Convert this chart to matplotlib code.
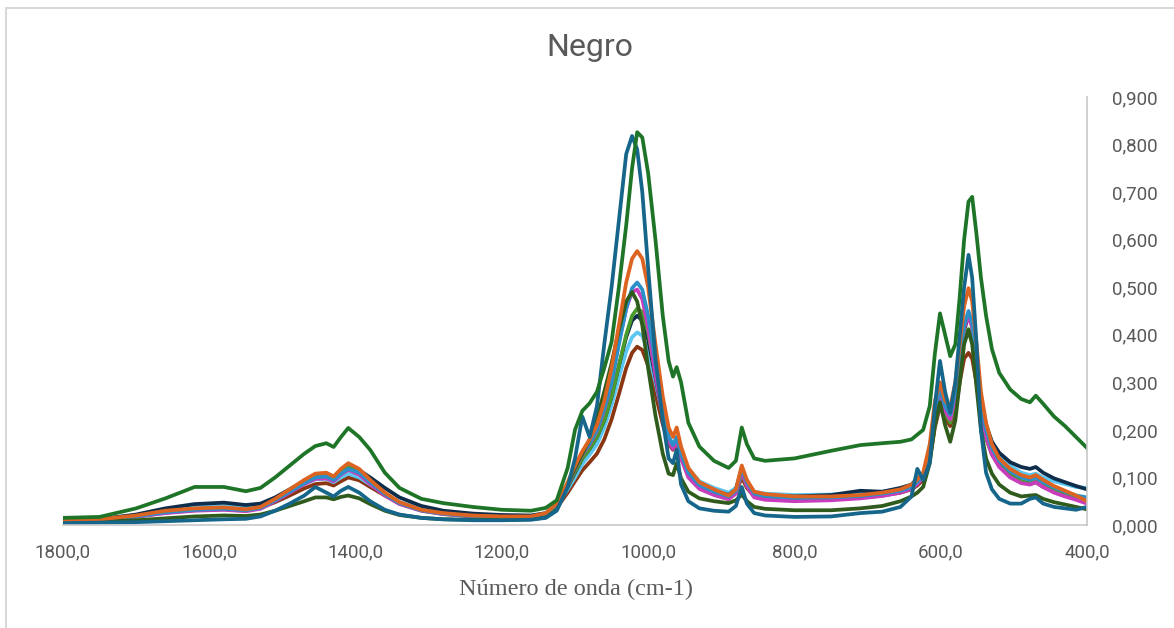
import numpy as np
import matplotlib.pyplot as plt
from matplotlib.lines import Line2D

# número de onda (cm-1), rejilla común para todas las muestras
wn = [1800, 1750, 1700, 1660, 1620, 1580, 1550, 1530, 1510, 1490, 1470, 1455, 1440, 1430, 1420,
      1410, 1395, 1380, 1360, 1340, 1310, 1280, 1240, 1200, 1160, 1140, 1125, 1110, 1100, 1090,
      1080, 1070, 1060, 1050, 1040, 1030, 1022, 1015, 1008, 1000, 990, 980, 972, 966, 961,
      955, 945, 930, 910, 890, 880, 872, 865, 855, 840, 800, 750, 710, 680, 655,
      640, 632, 624, 615, 608, 601, 594, 587, 580, 574, 568, 562, 557, 551, 545,
      538, 530, 520, 505, 490, 478, 470, 460, 445, 430, 415, 400]

verde_alto = [0.015, 0.017, 0.035, 0.056, 0.080, 0.080, 0.071, 0.078, 0.100, 0.125, 0.150, 0.166, 0.172, 0.164, 0.185,
              0.204, 0.185, 0.158, 0.110, 0.078, 0.055, 0.046, 0.038, 0.032, 0.030, 0.036, 0.052, 0.120, 0.200, 0.240,
              0.256, 0.280, 0.330, 0.385, 0.500, 0.630, 0.750, 0.826, 0.815, 0.740, 0.600, 0.440, 0.345, 0.312, 0.332,
              0.300, 0.215, 0.165, 0.135, 0.120, 0.135, 0.205, 0.170, 0.140, 0.135, 0.140, 0.156, 0.168, 0.172, 0.175,
              0.180, 0.190, 0.200, 0.250, 0.360, 0.445, 0.400, 0.355, 0.380, 0.480, 0.600, 0.680, 0.690, 0.610, 0.520,
              0.440, 0.370, 0.320, 0.285, 0.265, 0.258, 0.272, 0.255, 0.228, 0.208, 0.185, 0.162]

azul_petroleo = [0.004, 0.005, 0.006, 0.008, 0.010, 0.012, 0.013, 0.018, 0.030, 0.045, 0.062, 0.080, 0.068, 0.060, 0.072,
                 0.080, 0.068, 0.050, 0.032, 0.022, 0.015, 0.012, 0.010, 0.010, 0.011, 0.015, 0.030, 0.080, 0.140, 0.228,
                 0.185, 0.250, 0.380, 0.500, 0.640, 0.780, 0.818, 0.790, 0.700, 0.540, 0.350, 0.220, 0.140, 0.130, 0.158,
                 0.085, 0.050, 0.035, 0.030, 0.028, 0.040, 0.080, 0.045, 0.025, 0.020, 0.017, 0.018, 0.025, 0.028, 0.038,
                 0.060, 0.118, 0.095, 0.130, 0.250, 0.345, 0.280, 0.236, 0.300, 0.400, 0.500, 0.568, 0.520, 0.380, 0.200,
                 0.110, 0.075, 0.055, 0.045, 0.045, 0.055, 0.058, 0.045, 0.038, 0.035, 0.032, 0.038]

naranja = [0.008, 0.012, 0.020, 0.030, 0.035, 0.037, 0.033, 0.038, 0.055, 0.075, 0.095, 0.108, 0.110, 0.102, 0.118,
           0.130, 0.118, 0.095, 0.068, 0.048, 0.032, 0.025, 0.020, 0.018, 0.018, 0.025, 0.045, 0.090, 0.125, 0.155,
           0.180, 0.210, 0.260, 0.330, 0.420, 0.510, 0.560, 0.576, 0.560, 0.500, 0.380, 0.270, 0.205, 0.185, 0.205,
           0.165, 0.120, 0.090, 0.075, 0.062, 0.075, 0.125, 0.095, 0.070, 0.065, 0.060, 0.060, 0.063, 0.068, 0.075,
           0.085, 0.095, 0.110, 0.170, 0.260, 0.300, 0.262, 0.248, 0.300, 0.380, 0.460, 0.498, 0.470, 0.380, 0.280,
           0.215, 0.170, 0.140, 0.118, 0.105, 0.100, 0.105, 0.095, 0.082, 0.072, 0.062, 0.050]

azul = [0.008, 0.011, 0.018, 0.027, 0.032, 0.034, 0.031, 0.036, 0.052, 0.070, 0.088, 0.100, 0.102, 0.095, 0.108,
        0.118, 0.110, 0.090, 0.065, 0.046, 0.031, 0.024, 0.019, 0.017, 0.017, 0.023, 0.042, 0.085, 0.120, 0.150,
        0.172, 0.200, 0.245, 0.300, 0.380, 0.455, 0.498, 0.510, 0.495, 0.440, 0.340, 0.245, 0.185, 0.168, 0.185,
        0.150, 0.110, 0.084, 0.070, 0.060, 0.072, 0.118, 0.090, 0.066, 0.061, 0.057, 0.058, 0.061, 0.066, 0.072,
        0.080, 0.090, 0.104, 0.160, 0.245, 0.285, 0.250, 0.232, 0.280, 0.350, 0.420, 0.450, 0.425, 0.345, 0.255,
        0.200, 0.162, 0.135, 0.113, 0.100, 0.095, 0.100, 0.090, 0.079, 0.070, 0.062, 0.058]

magenta = [0.007, 0.010, 0.017, 0.025, 0.030, 0.032, 0.029, 0.034, 0.050, 0.068, 0.086, 0.097, 0.098, 0.092, 0.106,
           0.116, 0.106, 0.086, 0.062, 0.044, 0.030, 0.023, 0.018, 0.016, 0.016, 0.022, 0.040, 0.082, 0.118, 0.148,
           0.170, 0.198, 0.242, 0.300, 0.385, 0.455, 0.490, 0.495, 0.475, 0.415, 0.315, 0.230, 0.175, 0.160, 0.178,
           0.140, 0.100, 0.076, 0.063, 0.054, 0.066, 0.112, 0.082, 0.058, 0.053, 0.050, 0.052, 0.056, 0.061, 0.068,
           0.076, 0.086, 0.100, 0.155, 0.235, 0.278, 0.240, 0.222, 0.270, 0.345, 0.415, 0.440, 0.415, 0.330, 0.240,
           0.185, 0.148, 0.122, 0.100, 0.088, 0.085, 0.090, 0.080, 0.068, 0.060, 0.053, 0.045]

verde_oscuro = [0.005, 0.007, 0.010, 0.014, 0.018, 0.020, 0.019, 0.022, 0.030, 0.040, 0.050, 0.058, 0.058, 0.054, 0.059,
                0.062, 0.056, 0.044, 0.030, 0.021, 0.015, 0.012, 0.011, 0.011, 0.012, 0.016, 0.032, 0.085, 0.120, 0.150,
                0.180, 0.225, 0.280, 0.340, 0.410, 0.470, 0.490, 0.470, 0.420, 0.330, 0.230, 0.150, 0.108, 0.105, 0.130,
                0.098, 0.070, 0.056, 0.050, 0.046, 0.052, 0.064, 0.050, 0.038, 0.034, 0.031, 0.031, 0.035, 0.040, 0.050,
                0.060, 0.068, 0.080, 0.130, 0.210, 0.258, 0.210, 0.175, 0.220, 0.300, 0.380, 0.410, 0.380, 0.290, 0.200,
                0.140, 0.108, 0.085, 0.068, 0.060, 0.062, 0.063, 0.055, 0.048, 0.043, 0.038, 0.033]

verde = [0.008, 0.011, 0.018, 0.026, 0.031, 0.033, 0.030, 0.036, 0.053, 0.072, 0.092, 0.104, 0.106, 0.099, 0.112,
         0.122, 0.112, 0.090, 0.064, 0.045, 0.030, 0.023, 0.018, 0.016, 0.016, 0.022, 0.040, 0.080, 0.112, 0.140,
         0.160, 0.185, 0.220, 0.270, 0.335, 0.400, 0.440, 0.455, 0.448, 0.405, 0.320, 0.235, 0.180, 0.162, 0.178,
         0.145, 0.105, 0.080, 0.066, 0.057, 0.068, 0.108, 0.082, 0.060, 0.056, 0.053, 0.054, 0.058, 0.063, 0.070,
         0.078, 0.088, 0.100, 0.150, 0.225, 0.268, 0.235, 0.215, 0.260, 0.330, 0.395, 0.412, 0.392, 0.318, 0.235,
         0.182, 0.148, 0.124, 0.104, 0.092, 0.088, 0.092, 0.083, 0.072, 0.064, 0.057, 0.050]

azul_marino = [0.008, 0.012, 0.022, 0.035, 0.044, 0.047, 0.042, 0.045, 0.058, 0.075, 0.092, 0.104, 0.108, 0.102, 0.112,
               0.120, 0.115, 0.100, 0.078, 0.058, 0.040, 0.030, 0.024, 0.021, 0.020, 0.025, 0.042, 0.080, 0.110, 0.140,
               0.160, 0.185, 0.220, 0.270, 0.335, 0.395, 0.430, 0.440, 0.430, 0.390, 0.310, 0.232, 0.180, 0.165, 0.180,
               0.148, 0.110, 0.085, 0.072, 0.063, 0.074, 0.120, 0.088, 0.066, 0.062, 0.060, 0.063, 0.072, 0.070, 0.078,
               0.085, 0.098, 0.105, 0.150, 0.225, 0.270, 0.240, 0.222, 0.265, 0.340, 0.410, 0.440, 0.420, 0.350, 0.265,
               0.210, 0.175, 0.152, 0.132, 0.122, 0.118, 0.122, 0.110, 0.098, 0.090, 0.082, 0.075]

celeste = [0.008, 0.012, 0.021, 0.032, 0.039, 0.042, 0.038, 0.042, 0.056, 0.072, 0.087, 0.096, 0.097, 0.090, 0.100,
           0.108, 0.100, 0.085, 0.065, 0.048, 0.034, 0.027, 0.022, 0.020, 0.019, 0.024, 0.040, 0.075, 0.100, 0.128,
           0.148, 0.170, 0.205, 0.252, 0.310, 0.365, 0.395, 0.405, 0.398, 0.365, 0.300, 0.232, 0.185, 0.170, 0.182,
           0.155, 0.118, 0.092, 0.078, 0.068, 0.078, 0.112, 0.090, 0.070, 0.066, 0.063, 0.064, 0.066, 0.070, 0.076,
           0.083, 0.092, 0.104, 0.148, 0.215, 0.258, 0.238, 0.225, 0.262, 0.330, 0.390, 0.405, 0.395, 0.335, 0.260,
           0.210, 0.175, 0.148, 0.125, 0.110, 0.105, 0.108, 0.100, 0.092, 0.086, 0.080, 0.078]

marron = [0.008, 0.011, 0.019, 0.028, 0.034, 0.036, 0.032, 0.036, 0.048, 0.062, 0.077, 0.086, 0.088, 0.083, 0.092,
          0.100, 0.094, 0.080, 0.062, 0.046, 0.033, 0.026, 0.021, 0.018, 0.018, 0.022, 0.036, 0.068, 0.092, 0.115,
          0.132, 0.150, 0.180, 0.222, 0.275, 0.330, 0.362, 0.375, 0.368, 0.335, 0.275, 0.212, 0.170, 0.158, 0.170,
          0.140, 0.105, 0.082, 0.068, 0.059, 0.068, 0.100, 0.078, 0.060, 0.056, 0.054, 0.055, 0.058, 0.062, 0.068,
          0.075, 0.083, 0.095, 0.138, 0.205, 0.250, 0.225, 0.208, 0.240, 0.300, 0.350, 0.362, 0.350, 0.298, 0.232,
          0.185, 0.152, 0.126, 0.105, 0.092, 0.086, 0.090, 0.080, 0.070, 0.063, 0.057, 0.052]

series = [
    (marron, '#8A3613'),
    (celeste, '#5CC6F2'),
    (azul_marino, '#0E2D4A'),
    (verde, '#4A9A2C'),
    (magenta, '#C93DBC'),
    (azul, '#2B8FC9'),
    (verde_oscuro, '#2F5C1C'),
    (naranja, '#DC6420'),
    (azul_petroleo, '#15668A'),
    (verde_alto, '#1F7527'),
]

fig = plt.figure(figsize=(11.74, 6.28), dpi=100)
ax = fig.add_axes([63 / 1174, 1 - 525 / 628, 1024 / 1174, 428 / 628])

for vals, col in series:
    ax.plot(wn, vals, color=col, linewidth=2.7, solid_joinstyle='round')

ax.set_xlim(1800, 400)
ax.set_ylim(0, 0.9)
ax.set_xticks(np.arange(1800, 399, -200))
ax.set_xticklabels([f"{t:.1f}".replace('.', ',') for t in np.arange(1800, 399, -200)])
ax.set_yticks(np.arange(0, 0.91, 0.1))
ax.set_yticklabels([f"{t:.3f}".replace('.', ',') for t in np.arange(0, 0.91, 0.1)])
ax.yaxis.tick_right()
ax.tick_params(axis='both', length=0, labelsize=13.5, labelcolor='#595959')
ax.tick_params(axis='x', pad=13)
ax.tick_params(axis='y', pad=18)
for lab in ax.get_xticklabels() + ax.get_yticklabels():
    lab.set_family('Roboto')

for s in ['top', 'left']:
    ax.spines[s].set_visible(False)
for s in ['bottom', 'right']:
    ax.spines[s].set_color('#C8C8C8')
    ax.spines[s].set_linewidth(1.2)

fig.text(590 / 1174, 1 - 47 / 628, 'Negro', ha='center', va='center',
         fontsize=23, color='#595959', family='Roboto')
fig.text(576 / 1174, 1 - 589 / 628, 'Número de onda (cm-1)', ha='center', va='center',
         fontsize=17.5, color='#595959', family='Liberation Serif')

# marco del gráfico
fig.add_artist(Line2D([5.5 / 1174, 5.5 / 1174], [0, 1 - 8 / 628], color='#D9D9D9', linewidth=1.5))
fig.add_artist(Line2D([5.5 / 1174, 1], [1 - 8 / 628, 1 - 8 / 628], color='#D9D9D9', linewidth=1.5))

fig.savefig('out.png', dpi=100)
